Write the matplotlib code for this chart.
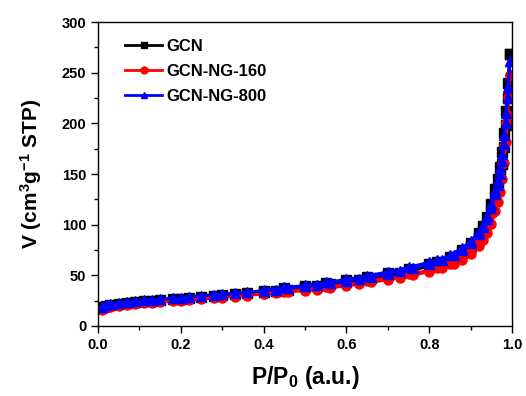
import matplotlib
matplotlib.use("Agg")
import matplotlib.pyplot as plt
from matplotlib.ticker import MultipleLocator

plt.rcParams["font.family"] = ["Liberation Sans", "DejaVu Sans"]
plt.rcParams["font.weight"] = "bold"
plt.rcParams["mathtext.fontset"] = "custom"
plt.rcParams["mathtext.rm"] = "Liberation Sans:bold"
plt.rcParams["mathtext.it"] = "Liberation Sans:bold"
plt.rcParams["mathtext.bf"] = "Liberation Sans:bold"

# adsorption branch pressures (P/P0)
p_ads = [0.01, 0.02, 0.03, 0.05, 0.07, 0.09, 0.11, 0.13, 0.15, 0.18, 0.2, 0.22, 0.25,
         0.28, 0.3, 0.33, 0.36, 0.4, 0.43, 0.46, 0.5, 0.53, 0.56, 0.6, 0.63, 0.66, 0.7,
         0.73, 0.76, 0.8, 0.83, 0.86, 0.88, 0.9, 0.92, 0.93, 0.94, 0.95, 0.96, 0.965,
         0.97, 0.975, 0.98, 0.985, 0.99, 0.995]
# desorption branch pressures
p_des = [0.995, 0.99, 0.985, 0.98, 0.975, 0.97, 0.965, 0.96, 0.95, 0.94, 0.93, 0.92,
         0.9, 0.88, 0.85, 0.82, 0.8, 0.75, 0.7, 0.65, 0.6, 0.55, 0.5, 0.45, 0.4]

gcn_ads = [19, 20, 21, 22, 23, 24, 24.5, 25, 26, 26.5, 27, 28, 29, 30, 30.5, 31.5, 32.5,
           34, 35, 36, 38, 39, 41, 43, 45, 47, 50, 52, 55, 59, 63, 68, 72, 79, 88, 95,
           103, 113, 127, 136, 147, 160, 177, 198, 225, 268]
gcn_des = [268, 240, 212, 190, 172, 157, 145, 135, 120, 108, 99, 92, 82, 75, 68, 63, 61,
           56, 52, 48, 45, 42, 39, 37, 35]

ng160_ads = [16, 18, 19, 20, 21, 22, 22.5, 23, 23.5, 24.5, 25, 25.5, 26.5, 27.5, 28, 29,
             30, 31.5, 32.5, 33.5, 35, 36, 37.5, 39.5, 41, 43, 45.5, 47.5, 50, 53.5, 57,
             61, 65, 71, 79, 85, 92, 101, 113, 122, 132, 145, 161, 182, 208, 248]
ng160_des = [248, 226, 200, 178, 160, 146, 135, 125, 111, 99, 90, 83, 74, 68, 61, 57, 55,
             51, 47.5, 44, 41, 38.5, 36, 34, 32]

ng800_ads = [19, 21, 22, 23, 24, 25, 25.5, 26, 26.5, 27.5, 28, 29, 30, 31, 31.5, 32.5,
             33.5, 35, 36, 37.5, 39, 40.5, 42, 44.5, 46.5, 48.5, 51.5, 54, 57, 61, 65, 70,
             75, 82, 91, 98, 106, 116, 130, 139, 150, 163, 180, 200, 225, 262]
ng800_des = [262, 236, 210, 188, 170, 156, 144, 134, 120, 109, 100, 93, 84, 77, 70, 65,
             63, 58, 53.5, 49.5, 46, 43, 40, 38, 36]

series = [
    ("GCN", gcn_ads, gcn_des, "black", "s"),
    ("GCN-NG-160", ng160_ads, ng160_des, "red", "o"),
    ("GCN-NG-800", ng800_ads, ng800_des, "blue", "^"),
]

fig = plt.figure(figsize=(5.26, 3.96), dpi=100)
ax = fig.add_axes([0.1863, 0.1768, 0.7871, 0.7676])

for name, ads, des, color, marker in series:
    x = p_ads + p_des
    y = ads + des
    ax.plot(x, y, color=color, marker=marker, markersize=6.5, linewidth=2, label=name)

ax.set_xlim(0, 1.0)
ax.set_ylim(0, 300)
ax.xaxis.set_major_locator(MultipleLocator(0.2))
ax.xaxis.set_minor_locator(MultipleLocator(0.1))
ax.yaxis.set_major_locator(MultipleLocator(50))
ax.yaxis.set_minor_locator(MultipleLocator(25))
ax.tick_params(which="major", direction="out", length=5, width=1, labelsize=10.5)
ax.tick_params(which="minor", direction="out", length=3, width=1)
for s in ax.spines.values():
    s.set_linewidth(1)

ax.set_xlabel(r"P/P$_\mathregular{0}$ (a.u.)", fontsize=16.5, fontweight="bold", labelpad=9)
ax.set_ylabel(r"V (cm$^\mathregular{3}$g$^\mathregular{-1}$ STP)", fontsize=15,
              fontweight="bold", labelpad=13)

leg = ax.legend(loc="upper left", bbox_to_anchor=(0.05, 0.965), frameon=False, fontsize=12,
                handlelength=2.2, handletextpad=0.25, labelspacing=0.6, borderaxespad=0)
for h in leg.legend_handles:
    h.set_markersize(5)

fig.savefig("out.png", dpi=100)
